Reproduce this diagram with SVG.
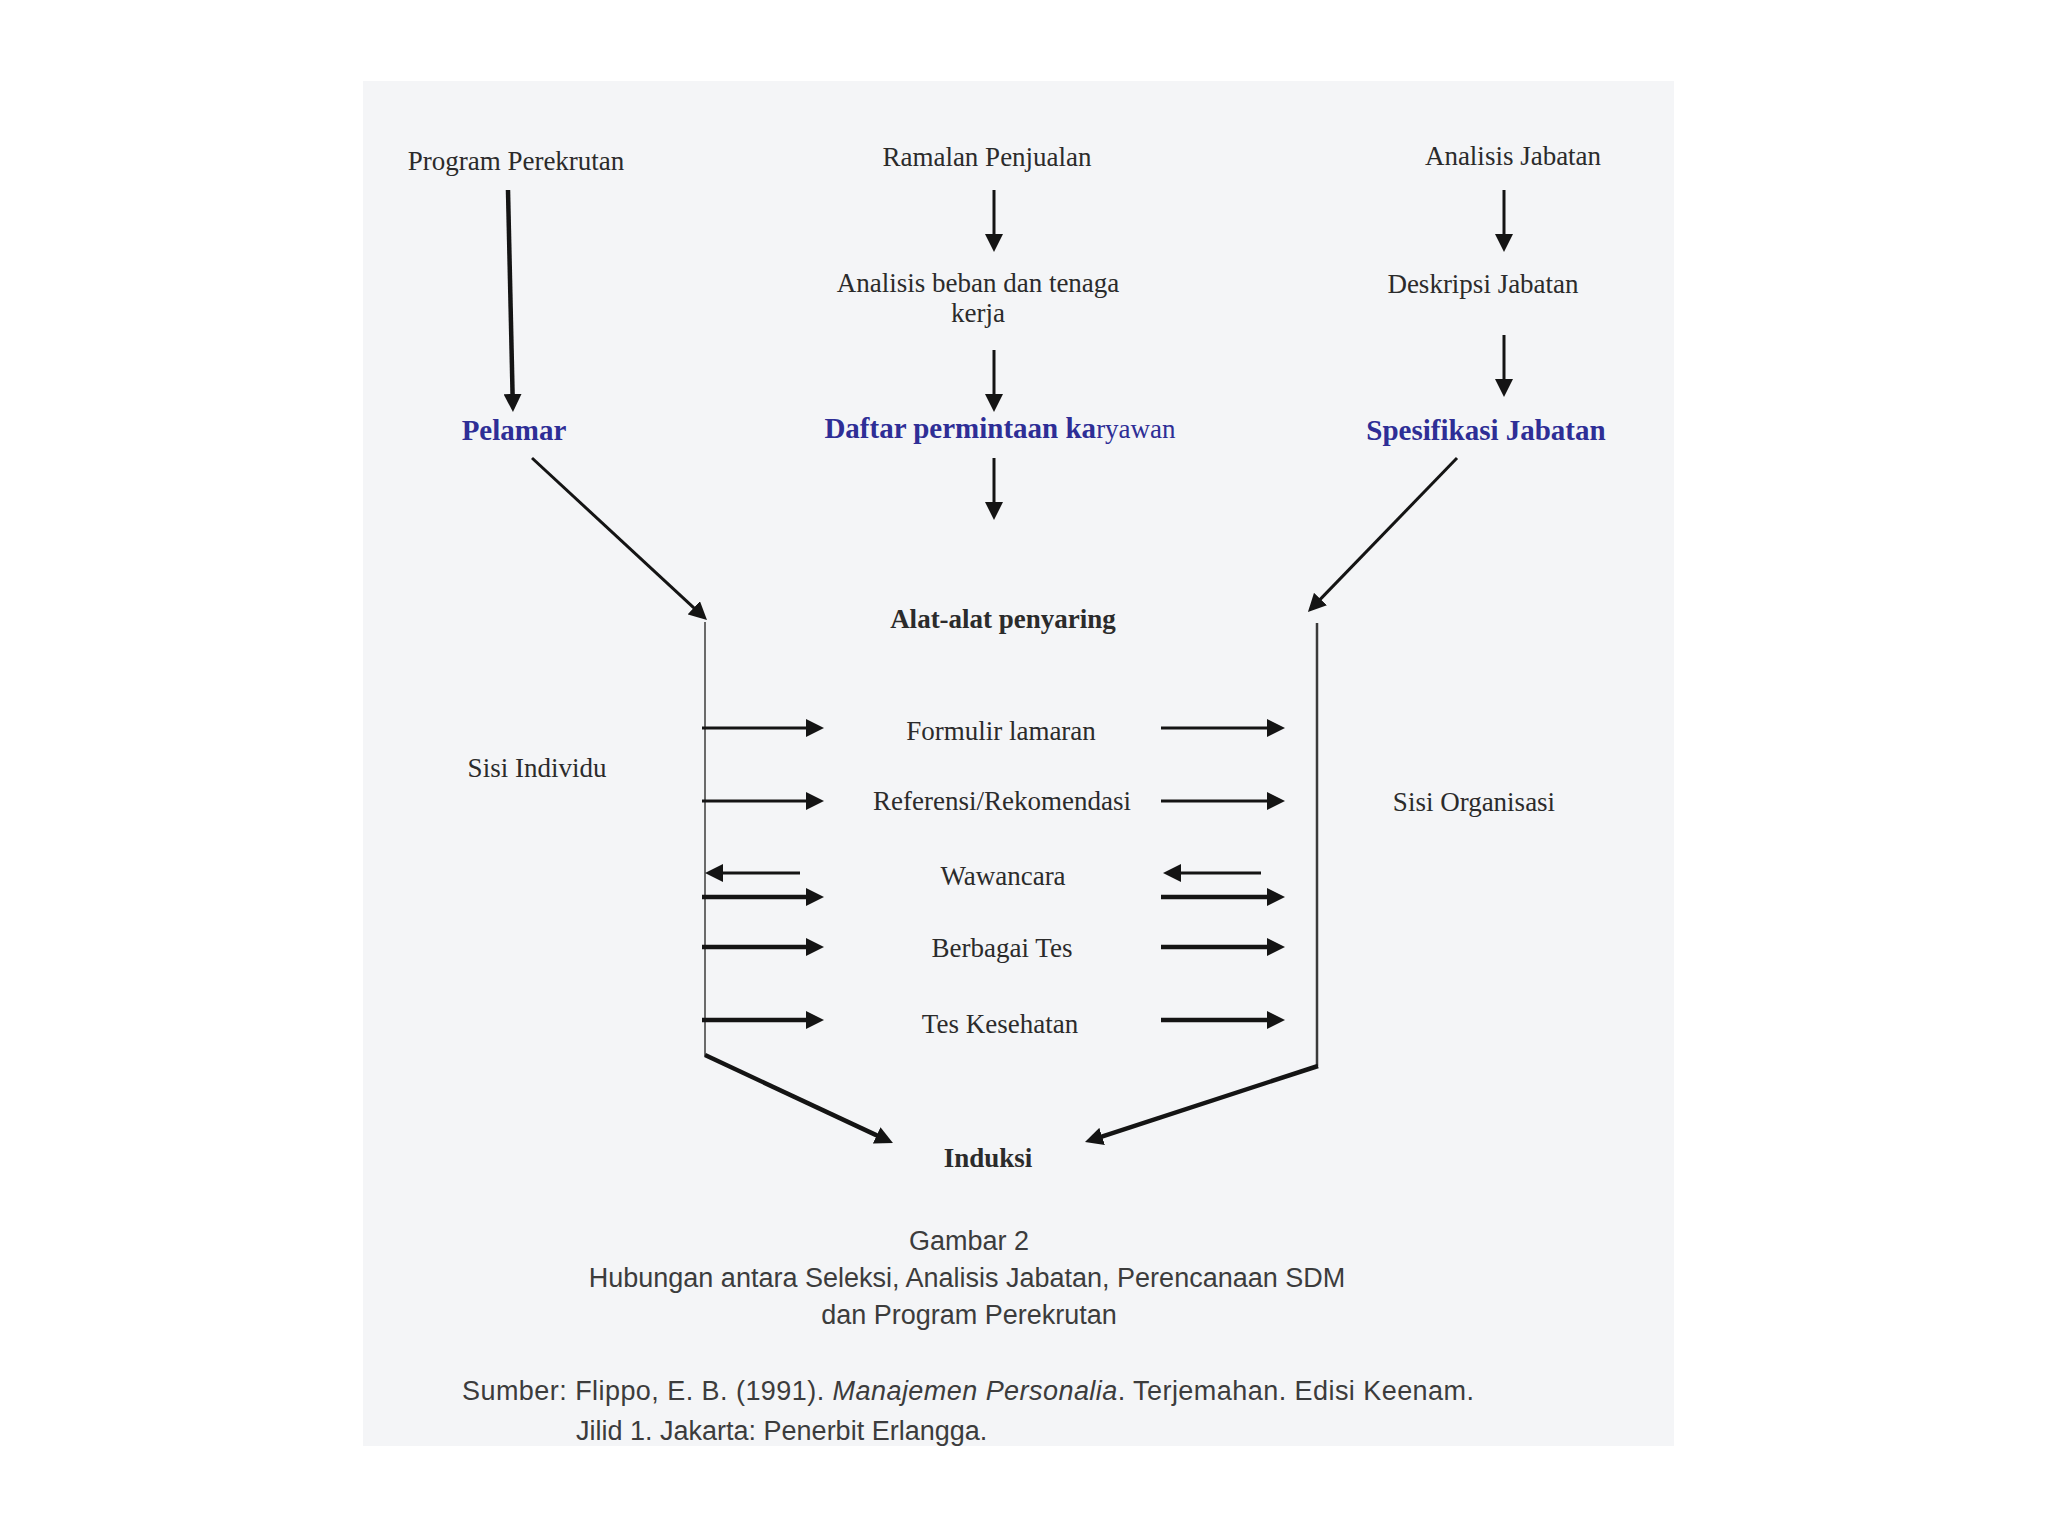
<svg xmlns="http://www.w3.org/2000/svg" width="2048" height="1536" viewBox="0 0 2048 1536">
<style>
.s{font-family:"Liberation Serif","Times New Roman",serif;font-size:27px;fill:#2b2b2b;text-anchor:middle}
.b{font-weight:bold}
.blue{font-family:"Liberation Serif","Times New Roman",serif;font-size:29px;font-weight:bold;fill:#2e2e96;text-anchor:middle}
.cap{font-family:"Liberation Sans",Arial,sans-serif;font-size:27px;fill:#3c3c3c;text-anchor:middle}
.src{font-family:"Liberation Sans",Arial,sans-serif;font-size:27px;fill:#3c3c3c}
.c{fill:none;stroke:#141414;stroke-width:3}
.t{stroke-width:4.5}
.v{fill:none;stroke:#6a6a6a;stroke-width:2}
.v2{fill:none;stroke:#3a3a3a;stroke-width:2.5}
</style>
<defs>
<marker id="ah" viewBox="0 0 18 18" markerUnits="userSpaceOnUse" markerWidth="18" markerHeight="18" refX="6" refY="9" orient="auto">
<path d="M0,0 L18,9 L0,18 z" fill="#141414"/>
</marker>
</defs>
<rect x="0" y="0" width="2048" height="1536" fill="#ffffff"/>
<rect x="363" y="81" width="1311" height="1365" fill="#f4f5f7"/>

<g id="connectors">
<line class="c t" x1="508" y1="190" x2="512.7" y2="400" marker-end="url(#ah)"/>
<line class="c" x1="994" y1="190" x2="994" y2="240" marker-end="url(#ah)"/>
<line class="c" x1="994" y1="350" x2="994" y2="400" marker-end="url(#ah)"/>
<line class="c" x1="994" y1="458" x2="994" y2="508" marker-end="url(#ah)"/>
<line class="c" x1="1504" y1="190" x2="1504" y2="240" marker-end="url(#ah)"/>
<line class="c" x1="1504" y1="335" x2="1504" y2="385" marker-end="url(#ah)"/>
<line class="c" x1="532" y1="458" x2="698.2" y2="611.8" marker-end="url(#ah)"/>
<line class="c" x1="1457" y1="458" x2="1316.3" y2="603.4" marker-end="url(#ah)"/>
<line class="v" x1="705" y1="622" x2="705" y2="1056"/>
<line class="v2" x1="1317" y1="623" x2="1317" y2="1066"/>
<line class="c t" x1="705" y1="1055" x2="882.1" y2="1137.9" marker-end="url(#ah)"/>
<line class="c t" x1="1318" y1="1066" x2="1096.4" y2="1138.3" marker-end="url(#ah)"/>
<line class="c" x1="702" y1="728" x2="812" y2="728" marker-end="url(#ah)"/>
<line class="c" x1="702" y1="801" x2="812" y2="801" marker-end="url(#ah)"/>
<line class="c" x1="800" y1="873" x2="717" y2="873" marker-end="url(#ah)"/>
<line class="c t" x1="702" y1="897" x2="812" y2="897" marker-end="url(#ah)"/>
<line class="c t" x1="702" y1="947" x2="812" y2="947" marker-end="url(#ah)"/>
<line class="c t" x1="702" y1="1020" x2="812" y2="1020" marker-end="url(#ah)"/>
<line class="c" x1="1161" y1="728" x2="1273" y2="728" marker-end="url(#ah)"/>
<line class="c" x1="1161" y1="801" x2="1273" y2="801" marker-end="url(#ah)"/>
<line class="c" x1="1261" y1="873" x2="1175" y2="873" marker-end="url(#ah)"/>
<line class="c t" x1="1161" y1="897" x2="1273" y2="897" marker-end="url(#ah)"/>
<line class="c t" x1="1161" y1="947" x2="1273" y2="947" marker-end="url(#ah)"/>
<line class="c t" x1="1161" y1="1020" x2="1273" y2="1020" marker-end="url(#ah)"/>
</g>

<g id="program-perekrutan"><text class="s" x="516" y="170">Program Perekrutan</text></g>
<g id="ramalan-penjualan"><text class="s" x="987" y="166">Ramalan Penjualan</text></g>
<g id="analisis-jabatan"><text class="s" x="1513" y="165">Analisis Jabatan</text></g>
<g id="analisis-beban"><text class="s" x="978" y="292">Analisis beban dan tenaga</text><text class="s" x="978" y="322">kerja</text></g>
<g id="deskripsi-jabatan"><text class="s" x="1483" y="293">Deskripsi Jabatan</text></g>
<g id="pelamar"><text class="blue" x="514" y="440">Pelamar</text></g>
<g id="daftar-permintaan"><text class="blue" x="1000" y="438">Daftar permintaan ka<tspan font-weight="normal" font-size="27">ryawan</tspan></text></g>
<g id="spesifikasi-jabatan"><text class="blue" x="1486" y="440">Spesifikasi Jabatan</text></g>
<g id="alat-penyaring"><text class="s b" x="1003" y="628" fill="#1e1e1e">Alat-alat penyaring</text></g>
<g id="formulir"><text class="s" x="1001" y="740">Formulir lamaran</text></g>
<g id="referensi"><text class="s" x="1002" y="810">Referensi/Rekomendasi</text></g>
<g id="wawancara"><text class="s" x="1003" y="885">Wawancara</text></g>
<g id="berbagai-tes"><text class="s" x="1002" y="957">Berbagai Tes</text></g>
<g id="tes-kesehatan"><text class="s" x="1000" y="1033">Tes Kesehatan</text></g>
<g id="sisi-individu"><text class="s" x="537" y="777">Sisi Individu</text></g>
<g id="sisi-organisasi"><text class="s" x="1474" y="811">Sisi Organisasi</text></g>
<g id="induksi"><text class="s b" x="988" y="1167" fill="#1e1e1e">Induksi</text></g>

<g id="caption">
<text class="cap" x="969" y="1250">Gambar 2</text>
<text class="cap" x="967" y="1287">Hubungan antara Seleksi, Analisis Jabatan, Perencanaan SDM</text>
<text class="cap" x="969" y="1324">dan Program Perekrutan</text>
<text class="src" x="462" y="1400" textLength="1012" lengthAdjust="spacing">Sumber: Flippo, E. B. (1991). <tspan font-style="italic">Manajemen Personalia</tspan>. Terjemahan. Edisi Keenam.</text>
<text class="src" x="576" y="1440">Jilid 1. Jakarta: Penerbit Erlangga.</text>
</g>
</svg>
